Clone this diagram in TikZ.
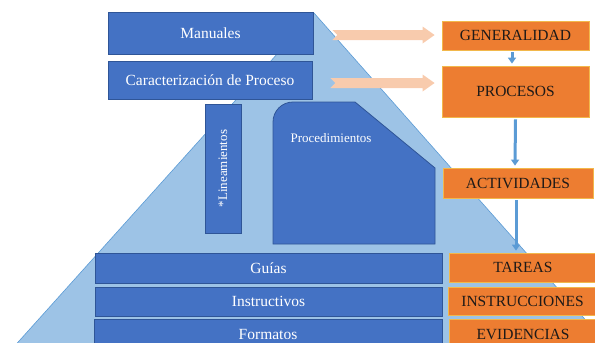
\documentclass[tikz,border=0pt]{standalone}
\usepackage{fontspec}
\setmainfont{Liberation Serif}
\usetikzlibrary{calc,arrows.meta}
\definecolor{bfill}{HTML}{4472C4}
\definecolor{bline}{HTML}{2F5597}
\definecolor{tri}{HTML}{9DC3E6}
\definecolor{triline}{HTML}{5B9BD5}
\definecolor{ofill}{HTML}{ED7D31}
\definecolor{oline}{HTML}{F2B84B}
\definecolor{peach}{HTML}{F8CBAD}
\definecolor{arr}{HTML}{5B9BD5}
\definecolor{otext}{HTML}{1E1A18}
\newcommand\peacharrow[2]{\fill[peach] let \p1=(#1), \p2=(#2) in (\x1,\y1+5pt) -- (\x2-12pt,\y1+5pt) -- (\x2-12pt,\y1+8.5pt) -- (\x2,\y1) -- (\x2-12pt,\y1-8.5pt) -- (\x2-12pt,\y1-5pt) -- (\x1,\y1-5pt) -- (\x1+5pt,\y1) -- cycle;}
\begin{document}
\begin{tikzpicture}[x=1pt,y=-1pt,
  bluebox/.style={draw=bline, line width=0.8pt, fill=bfill, text=white, inner sep=0pt, font=\fontsize{15.5}{16}\selectfont},
  orangebox/.style={draw=oline, line width=0.8pt, fill=ofill, text=otext, inner sep=0pt, font=\fontsize{15.5}{16}\selectfont},
  smalltext/.style={text=white, inner sep=0pt, font=\fontsize{13}{14}\selectfont},
  smallarrow/.style={draw=arr, line width=3pt, -{Triangle[width=8pt,length=6pt]}},
]
\useasboundingbox (0,0) rectangle (595,343);
\begin{scope}
\clip (0,0) rectangle (595,343);
% pyramid
\filldraw[fill=tri, draw=triline, line width=0.6pt] (314,13) -- (2,360) -- (621,360) -- cycle;

% blue boxes
\node[bluebox, minimum width=205pt, minimum height=42pt] (man) at (210.5,33) {Manuales};
\node[bluebox, minimum width=204pt, minimum height=38pt] (car) at (210,80) {Caracterización de Proceso};
\node[bluebox, smalltext, rotate=90, minimum width=129pt, minimum height=36pt] (lin) at (223,168.5) {*Lineamientos};
\filldraw[fill=bfill, draw=bline, line width=0.8pt] (273,244) -- (273,122) arc[start angle=180,end angle=90,radius=20pt] -- (355,102) -- (435,168) -- (435,244) -- cycle;
\node[smalltext] (proc) at (331,138) {Procedimientos};
\node[bluebox, minimum width=347pt, minimum height=30pt] (gui) at (268.5,268) {Guías};
\node[bluebox, minimum width=347pt, minimum height=29pt] (ist) at (268.5,301.5) {Instructivos};
\node[bluebox, minimum width=348pt, minimum height=30pt] (for) at (268,334) {Formatos};

% orange boxes
\node[orangebox, minimum width=147pt, minimum height=29pt] (gen) at (515.5,35.5) {GENERALIDAD};
\node[orangebox, minimum width=147pt, minimum height=51pt] (pro) at (515.5,91.5) {PROCESOS};
\node[orangebox, minimum width=150pt, minimum height=30pt] (act) at (518,183) {ACTIVIDADES};
\node[orangebox, minimum width=148pt, minimum height=29pt] (tar) at (523,267.5) {TAREAS};
\node[orangebox, minimum width=149pt, minimum height=28pt] (ins) at (522.5,301) {INSTRUCCIONES};
\node[orangebox, minimum width=148pt, minimum height=30pt] (evi) at (523,334) {EVIDENCIAS};

% peach block arrows
\coordinate (pa1s) at ($(man.east)+(19,2)$);
\coordinate (pa1e) at ($(gen.west)+(-7,-0.5)$);
\coordinate (pa2s) at ($(car.east)+(18,3)$);
\coordinate (pa2e) at ($(pro.west)+(-7,-8.5)$);
\peacharrow{pa1s}{pa1e}
\peacharrow{pa2s}{pa2e}

% small blue arrows
\draw[smallarrow] ($(gen.south)+(-3.5,2)$) -- ($(pro.north)+(-3.5,-2)$);
\draw[smallarrow] ($(pro.south)+(0,2)$) -- ($(act.north)+(-3,-2)$);
\draw[smallarrow] ($(act.south)+(-2,2)$) -- ($(tar.north)+(-7,-2)$);
\end{scope}
\end{tikzpicture}
\end{document}
